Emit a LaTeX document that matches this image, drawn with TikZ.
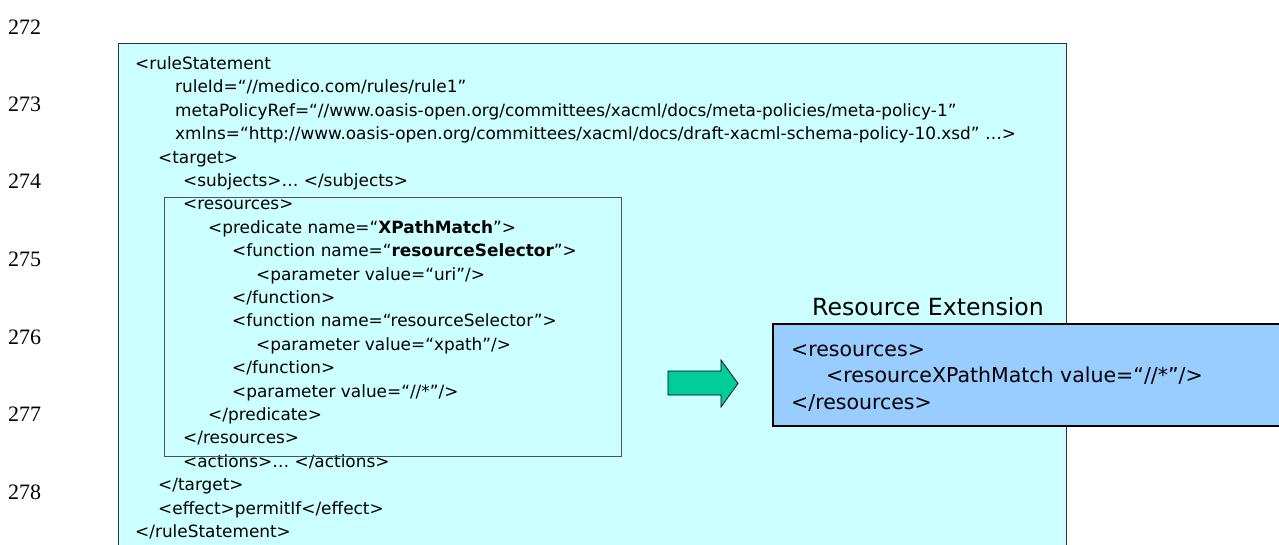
\documentclass[tikz,border=0pt]{standalone}
\usepackage{fontspec}
\setmainfont{DejaVu Sans}
\newfontfamily\numfont{Liberation Serif}
\definecolor{pagecyan}{HTML}{CCFFFF}
\definecolor{extblue}{HTML}{99CCFF}
\definecolor{arrowgreen}{HTML}{00CC99}
\definecolor{frame}{HTML}{333333}
\tikzset{
  code/.style={anchor=base west, inner sep=0pt, font=\fontsize{16.9}{20}\selectfont},
  extcode/.style={anchor=base west, inner sep=0pt, font=\fontsize{20.5}{24}\selectfont},
  exttitle/.style={anchor=base west, inner sep=0pt, font=\fontsize{23.6}{28}\selectfont},
  lineno/.style={anchor=base west, inner sep=0pt, font=\numfont\fontsize{22}{26}\selectfont},
}
\begin{document}
\begin{tikzpicture}[x=1pt,y=-1pt]
\useasboundingbox (0,0) rectangle (1279,545);
\clip (0,0) rectangle (1279,545);

% line numbers in the margin
\node[lineno] (n272) at (8,34.5) {272};
\node[lineno] (n273) at (8,111.5) {273};
\node[lineno] (n274) at (8,188.5) {274};
\node[lineno] (n275) at (8,266) {275};
\node[lineno] (n276) at (8,344) {276};
\node[lineno] (n277) at (8,421.5) {277};
\node[lineno] (n278) at (8,499.5) {278};

% rule statement panel
\draw[frame, fill=pagecyan, line width=1pt] (118,44) rectangle (1066,560);

\node[code] (l01) at (135,69.5) {<ruleStatement};
\node[code] (l02) at (175,92.9) {ruleId=“//medico.com/rules/rule1”};
\node[code] (l03) at (175,116.3) {metaPolicyRef=“//www.oasis-open.org/committees/xacml/docs/meta-policies/meta-policy-1”};
\node[code] (l04) at (175,139.7) {xmlns=“http://www.oasis-open.org/committees/xacml/docs/draft-xacml-schema-policy-10.xsd” …>};
\node[code] (l05) at (158,163.1) {<target>};
\node[code] (l06) at (183,186.5) {<subjects>… </subjects>};
\node[code] (l07) at (183,209.9) {<resources>};
\node[code] (l08) at (208,233.3) {<predicate name=“\textbf{XPathMatch}”>};
\node[code] (l09) at (232,256.7) {<function name=“\textbf{resourceSelector}”>};
\node[code] (l10) at (256,280.1) {<parameter value=“uri”/>};
\node[code] (l11) at (232,303.5) {</function>};
\node[code] (l12) at (232,326.9) {<function name=“resourceSelector”>};
\node[code] (l13) at (256,350.3) {<parameter value=“xpath”/>};
\node[code] (l14) at (232,373.7) {</function>};
\node[code] (l15) at (232,397.1) {<parameter value=“//*”/>};
\node[code] (l16) at (208,420.5) {</predicate>};
\node[code] (l17) at (183,443.9) {</resources>};
\node[code] (l18) at (183,467.3) {<actions>… </actions>};
\node[code] (l19) at (158,490.7) {</target>};
\node[code] (l20) at (158,514.1) {<effect>permitIf</effect>};
\node[code] (l21) at (135,537.5) {</ruleStatement>};

% frame around the resources element
\draw[frame!85, line width=1pt] (164,198) rectangle (621,456);

% transformation arrow
\draw[black, fill=arrowgreen, line width=0.7pt]
  (668,371) -- (721,371) -- (721,360) -- (738,383.5) -- (721,407) -- (721,395) -- (668,395) -- cycle;

% resource extension box
\node[exttitle] (extlabel) at (812,315) {Resource Extension};
\draw[black, fill=extblue, line width=1.6pt] (773,324) rectangle (1300,426);
\node[extcode] (e1) at (791,356) {<resources>};
\node[extcode] (e2) at (826,382.5) {<resourceXPathMatch value=“//*”/>};
\node[extcode] (e3) at (791,409) {</resources>};
\end{tikzpicture}
\end{document}
